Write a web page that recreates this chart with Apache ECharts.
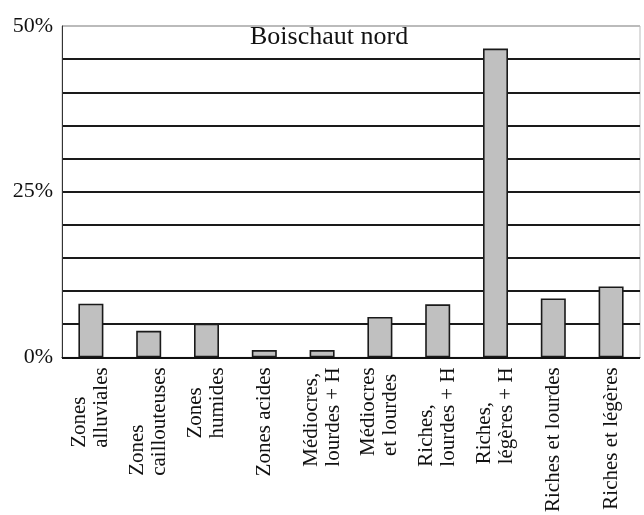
<!DOCTYPE html>
<html>
<head>
<meta charset="utf-8">
<script src="https://cdn.jsdelivr.net/npm/echarts@6/dist/echarts.min.js"></script>
<style>html,body{margin:0;padding:0;background:#fff;}#c{width:644px;height:515px;}</style>
</head>
<body>
<div id="c"></div>
<script>
const categories = [
  "Zones\nalluviales",
  "Zones\ncaillouteuses",
  "Zones\nhumides",
  "Zones acides",
  "Médiocres,\nlourdes + H",
  "Médiocres\net lourdes",
  "Riches,\nlourdes + H",
  "Riches,\nlégères + H",
  "Riches et lourdes",
  "Riches et légères"
];
const values = [8.1, 4.0, 5.1, 1.1, 1.1, 6.1, 8.0, 46.6, 8.9, 10.7];
const yLabels = { 0: "0%", 25: "25%", 50: "50%" };
const title = "Boischaut nord";

const serif = "'Liberation Serif', 'DejaVu Serif', serif";
const labelSize = 21;

// Left-align lines inside each rotated label block: pad shorter lines with an
// invisible spacer token so every line of a label has the same width.
const cv = document.createElement('canvas').getContext('2d');
cv.font = labelSize + "px 'Liberation Serif'";
const rich = { a: { fontFamily: serif, fontSize: labelSize, lineHeight: 22, color: '#111' } };
const labelText = {};
categories.forEach((cat, i) => {
  const lines = cat.split('\n');
  const widths = lines.map(s => cv.measureText(s).width);
  const maxW = Math.max.apply(null, widths);
  labelText[cat] = lines.map((s, j) => {
    const diff = maxW - widths[j];
    if (diff > 0.5) {
      const key = 'p' + i + '_' + j;
      rich[key] = { width: diff, fontFamily: serif, fontSize: labelSize, lineHeight: 22 };
      return '{a|' + s + '}{' + key + '| }';
    }
    return '{a|' + s + '}';
  }).join('\n');
});

const chart = echarts.init(document.getElementById('c'), null, { renderer: 'canvas' });
const gridColors = ['#111'].concat(Array(9).fill('#1a1a1a')).concat(['#bbb']);
chart.setOption({
  animation: false,
  backgroundColor: '#fff',
  title: {
    text: title,
    left: 250, top: 24, padding: 0,
    textStyle: { fontFamily: serif, fontSize: 26, fontWeight: 'normal', color: '#111' }
  },
  grid: { left: 62, right: 4, top: 26, bottom: 155, show: true, borderColor: '#bbb', borderWidth: 1, backgroundColor: 'transparent' },
  xAxis: {
    type: 'category',
    data: categories,
    axisTick: { show: false },
    axisLine: { lineStyle: { color: '#111', width: 1 } },
    axisLabel: {
      rotate: 90,
      interval: 0,
      margin: 10,
      color: '#111',
      fontFamily: serif,
      fontSize: labelSize,
      lineHeight: 22,
      formatter: v => labelText[v],
      rich: rich
    }
  },
  yAxis: {
    type: 'value',
    min: 0, max: 50, interval: 5,
    axisLine: { show: true, lineStyle: { color: '#333', width: 1 } },
    axisTick: { show: false },
    axisLabel: {
      margin: 9,
      color: '#111',
      fontFamily: serif,
      fontSize: 22,
      formatter: v => (yLabels[v] !== undefined ? yLabels[v] : '')
    },
    splitLine: { show: true, lineStyle: { color: gridColors, width: 1.8 } }
  },
  series: [{
    type: 'bar',
    data: values,
    barWidth: 25,
    itemStyle: { color: '#c0c0c0', borderColor: '#1a1a1a', borderWidth: 1.6 }
  }]
});
</script>
</body>
</html>
